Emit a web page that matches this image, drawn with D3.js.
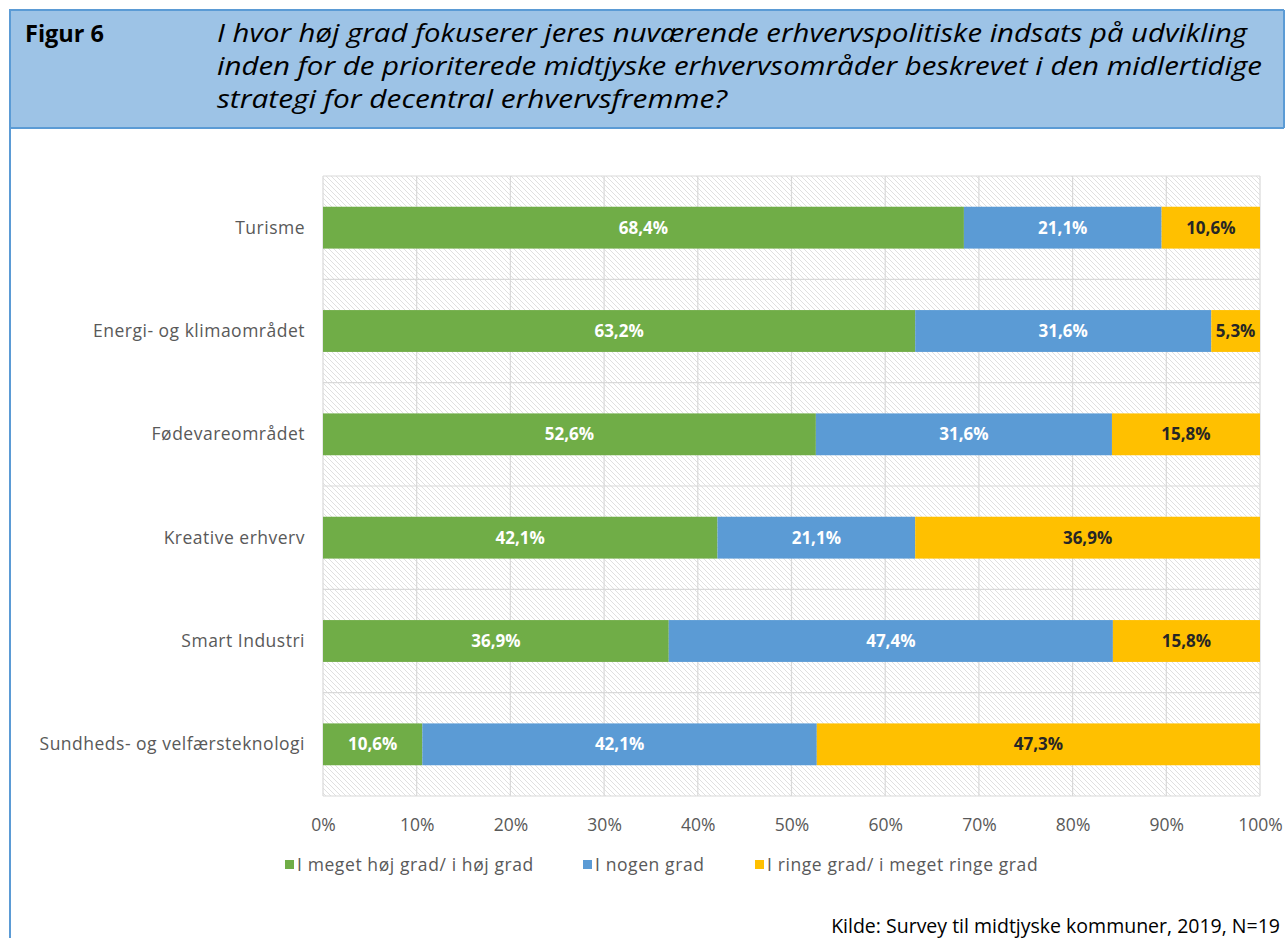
<!DOCTYPE html>
<html>
<head>
<meta charset="utf-8">
<script src="https://cdn.jsdelivr.net/npm/d3@7"></script>
<style>
  html, body { margin: 0; padding: 0; background: #fff; }
  svg { display: block; }
</style>
</head>
<body>
<svg id="chart" width="1286" height="938"></svg>
<script>
const categories = [
  "Turisme",
  "Energi- og klimaområdet",
  "Fødevareområdet",
  "Kreative erhverv",
  "Smart Industri",
  "Sundheds- og velfærsteknologi"
];
const seriesNames = [
  "I meget høj grad/ i høj grad",
  "I nogen grad",
  "I ringe grad/ i meget ringe grad"
];
const highValues = [68.4, 63.2, 52.6, 42.1, 36.9, 10.6];
const someValues = [21.1, 31.6, 31.6, 21.1, 47.4, 42.1];
const lowValues  = [10.6, 5.3, 15.8, 36.9, 15.8, 47.3];
const tickValues = [0, 10, 20, 30, 40, 50, 60, 70, 80, 90, 100];
const titleLines = [
  "I hvor høj grad fokuserer jeres nuværende erhvervspolitiske indsats på udvikling",
  "inden for de prioriterede midtjyske erhvervsområder beskrevet i den midlertidige",
  "strategi for decentral erhvervsfremme?"
];
const figureLabel = "Figur 6";
const sourceText = "Kilde: Survey til midtjyske kommuner, 2019, N=19";

const colors = ["#70AD47", "#5B9BD5", "#FFC000"];
const labelColors = ["#ffffff", "#ffffff", "#262626"];
const FONT = "'Open Sans', 'Noto Sans', sans-serif";

const svg = d3.select("#chart");

// hatch pattern
const defs = svg.append("defs");
const pat = defs.append("pattern")
  .attr("id", "hatch").attr("patternUnits", "userSpaceOnUse")
  .attr("width", 5).attr("height", 5);
pat.append("rect").attr("width", 5).attr("height", 5).attr("fill", "#ffffff");
pat.append("path").attr("d", "M-1,-1 L6,6 M-1,4 L1,6 M4,-1 L6,1")
  .attr("stroke", "#dcdcdc").attr("stroke-width", 0.9);

// header frame
svg.append("rect").attr("x", 10).attr("y", 10).attr("width", 1274).attr("height", 118)
  .attr("fill", "#9DC3E6");
svg.append("line").attr("x1", 10).attr("x2", 1284).attr("y1", 10).attr("y2", 10)
  .attr("stroke", "#5B9BD5").attr("stroke-width", 2);
svg.append("line").attr("x1", 10).attr("x2", 1284).attr("y1", 128).attr("y2", 128)
  .attr("stroke", "#5B9BD5").attr("stroke-width", 2);
svg.append("line").attr("x1", 1284).attr("x2", 1284).attr("y1", 10).attr("y2", 128)
  .attr("stroke", "#5B9BD5").attr("stroke-width", 2);
svg.append("line").attr("x1", 10).attr("x2", 10).attr("y1", 9).attr("y2", 938)
  .attr("stroke", "#5B9BD5").attr("stroke-width", 2);

svg.append("text").attr("x", 25).attr("y", 42)
  .attr("font-family", FONT).attr("font-weight", "bold").attr("font-size", 23.5)
  .attr("fill", "#000").text(figureLabel);

const titleWidths = [1030, 1045, 510];
svg.selectAll("text.title").data(titleLines).enter().append("text")
  .attr("class", "title")
  .attr("x", 217).attr("y", (d, i) => 42 + i * 33)
  .attr("font-family", FONT).attr("font-style", "italic").attr("font-size", 25)
  .attr("fill", "#000")
  .attr("textLength", (d, i) => titleWidths[i]).attr("lengthAdjust", "spacingAndGlyphs")
  .text(d => d);

// plot
const x = d3.scaleLinear().domain([0, 100]).range([323, 1260]).clamp(true);
const y = d3.scaleBand().domain(categories).range([176, 796]).paddingInner(0).paddingOuter(0);

const g = svg.append("g");
g.append("rect").attr("x", x(0)).attr("y", 176).attr("width", x(100) - x(0)).attr("height", 620)
  .attr("fill", "url(#hatch)");

// vertical gridlines
g.selectAll("line.vg").data(tickValues).enter().append("line")
  .attr("x1", d => x(d)).attr("x2", d => x(d)).attr("y1", 176).attr("y2", 796)
  .attr("stroke", "#d9d9d9").attr("stroke-width", 1.2);
// horizontal lines at band boundaries
const bounds = categories.map(c => y(c)).concat([796]);
g.selectAll("line.hg").data(bounds).enter().append("line")
  .attr("x1", x(0)).attr("x2", x(100)).attr("y1", d => d).attr("y2", d => d)
  .attr("stroke", "#d9d9d9").attr("stroke-width", 1.2);

// stacked data
const rows = categories.map((c, i) => ({ cat: c, vals: [highValues[i], someValues[i], lowValues[i]] }));
const segs = [];
rows.forEach(r => {
  let acc = 0;
  r.vals.forEach((v, k) => {
    segs.push({ cat: r.cat, k, v, x0: acc, x1: acc + v });
    acc += v;
  });
});

const barH = y.bandwidth() * 0.405;
const off = (y.bandwidth() - barH) / 2;
g.selectAll("rect.seg").data(segs).enter().append("rect")
  .attr("x", d => x(d.x0)).attr("width", d => x(d.x1) - x(d.x0))
  .attr("y", d => y(d.cat) + off).attr("height", barH)
  .attr("fill", d => colors[d.k]);

g.selectAll("text.val").data(segs).enter().append("text")
  .attr("x", d => (x(d.x0) + x(d.x1)) / 2)
  .attr("y", d => y(d.cat) + y.bandwidth() / 2 + 6)
  .attr("text-anchor", "middle")
  .attr("font-family", FONT).attr("font-weight", "bold").attr("font-size", 17)
  .attr("fill", d => labelColors[d.k])
  .text(d => d.v.toFixed(1).replace(".", ",") + "%");

// category axis labels
g.selectAll("text.cat").data(categories).enter().append("text")
  .attr("x", 305).attr("y", d => y(d) + y.bandwidth() / 2 + 6)
  .attr("text-anchor", "end")
  .attr("font-family", FONT).attr("font-size", 17.5).attr("letter-spacing", 0.5)
  .attr("fill", "#595959")
  .text(d => d);

// x axis
const xAxis = d3.axisBottom(x).tickValues(tickValues).tickSize(0).tickPadding(0)
  .tickFormat(d => d + "%");
const ax = svg.append("g").attr("transform", "translate(0,815)").call(xAxis);
ax.select(".domain").remove();
ax.selectAll("text").attr("font-family", FONT).attr("font-size", 17.5).attr("fill", "#595959")
  .attr("dy", "0.9em");

// legend
const legendX = [285, 583, 755];
const lg = svg.append("g");
seriesNames.forEach((n, i) => {
  lg.append("rect").attr("x", legendX[i]).attr("y", 860).attr("width", 9).attr("height", 9)
    .attr("fill", colors[i]);
  lg.append("text").attr("x", legendX[i] + 12).attr("y", 871)
    .attr("font-family", FONT).attr("font-size", 17.5).attr("letter-spacing", 0.6)
    .attr("fill", "#595959").text(n);
});

svg.append("text").attr("x", 1280).attr("y", 933).attr("text-anchor", "end")
  .attr("font-family", FONT).attr("font-size", 19.5).attr("fill", "#000").text(sourceText);
</script>
</body>
</html>
